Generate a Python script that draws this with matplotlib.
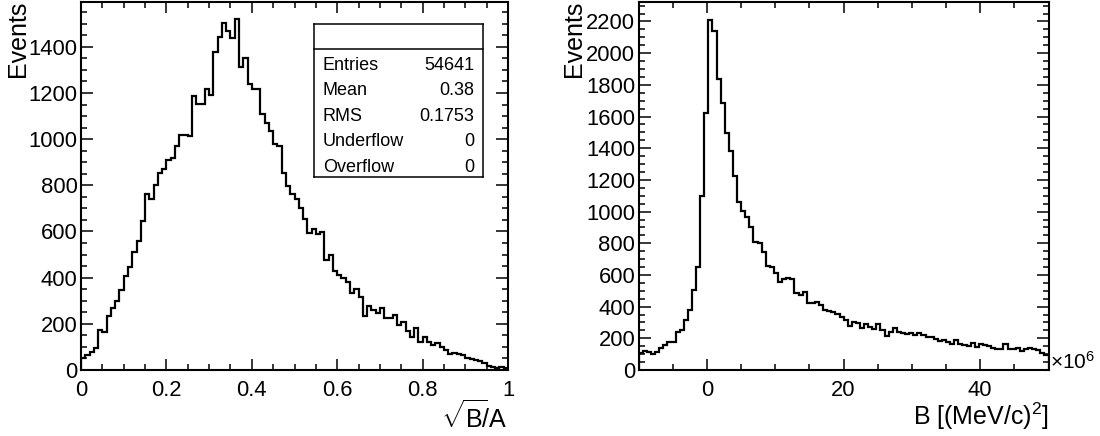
import matplotlib
matplotlib.use('Agg')
import matplotlib.pyplot as plt
import numpy as np
from matplotlib.ticker import MultipleLocator, FuncFormatter
from matplotlib.lines import Line2D

plt.rcParams['font.family'] = ['Liberation Sans', 'DejaVu Sans']
plt.rcParams['mathtext.fontset'] = 'custom'
plt.rcParams['mathtext.rm'] = 'Liberation Sans'
plt.rcParams['mathtext.it'] = 'Liberation Sans:italic'
plt.rcParams['mathtext.bf'] = 'Liberation Sans:bold'

# ---------------- data ----------------
left_range = (0.0, 1.0)
left_counts = [51, 65, 80, 94, 174, 164, 235, 268, 300, 345,
               409, 448, 512, 557, 645, 764, 742, 801, 855, 870,
               910, 920, 971, 1017, 1019, 1014, 1186, 1154, 1154, 1217,
               1193, 1377, 1442, 1504, 1467, 1439, 1522, 1312, 1351, 1238,
               1217, 1217, 1109, 1072, 1035, 980, 971, 855, 797, 761,
               742, 703, 652, 594, 612, 587, 599, 478, 500, 430,
               412, 399, 380, 333, 353, 315, 235, 278, 261, 246,
               268, 225, 225, 239, 196, 210, 171, 145, 181, 123,
               145, 123, 109, 116, 101, 87, 70, 72, 70, 65,
               51, 46, 43, 39, 32, 19, 14, 7, 14, 7]

right_range = (-10.0, 50.0)   # in units of 10^6 (MeV/c)^2
right_counts = [109, 118, 116, 99, 116, 137, 158, 179, 179, 238,
                253, 316, 379, 505, 653, 1099, 1621, 2211, 2143, 1836,
                1684, 1495, 1385, 1227, 1063, 1004, 968, 905, 811, 800,
                747, 657, 653, 611, 554, 573, 579, 573, 484, 474,
                491, 421, 425, 432, 411, 379, 373, 364, 354, 337,
                316, 278, 305, 295, 267, 288, 274, 257, 291, 253,
                217, 242, 267, 242, 236, 227, 232, 221, 232, 221,
                206, 211, 194, 185, 189, 177, 162, 189, 164, 158,
                152, 168, 147, 162, 158, 152, 137, 131, 133, 162,
                133, 133, 141, 122, 133, 141, 133, 126, 105, 95]

stats_labels = ['Entries', 'Mean', 'RMS', 'Underflow', 'Overflow']
stats_values = ['54641', '0.38', '0.1753', '0', '0']

left_xlabel = r'$\sqrt{\mathrm{B}}\!$/A'
right_xlabel = r'B [(MeV/c)$^{2}$]'
ylabel = 'Events'
right_scale_label = r'$\times$10$^{6}$'

# ---------------- figure ----------------
W, H = 1100, 436
fig = plt.figure(figsize=(W / 100, H / 100), dpi=100)


def fx(x):
    return x / W


def fy(y):
    return 1 - y / H


ax1 = fig.add_axes([fx(81), fy(370), fx(508) - fx(81), fy(2) - fy(370)])
ax2 = fig.add_axes([fx(638.7), fy(370), fx(1048.5) - fx(638.7), fy(2) - fy(370)])

e1 = np.linspace(left_range[0], left_range[1], len(left_counts) + 1)
e2 = np.linspace(right_range[0], right_range[1], len(right_counts) + 1)
ax1.stairs(left_counts, e1, color='black', lw=1.6)
ax2.stairs(right_counts, e2, color='black', lw=1.6)

ax1.set_xlim(*left_range)
ax1.set_ylim(0, 1594)
ax2.set_xlim(*right_range)
ax2.set_ylim(0, 2323)

fmt = FuncFormatter(lambda v, p: f'{v:g}')


def style(ax, xmaj, xmin, ymaj, ymin):
    ax.xaxis.set_major_locator(MultipleLocator(xmaj))
    ax.xaxis.set_minor_locator(MultipleLocator(xmin))
    ax.yaxis.set_major_locator(MultipleLocator(ymaj))
    ax.yaxis.set_minor_locator(MultipleLocator(ymin))
    ax.xaxis.set_major_formatter(fmt)
    ax.yaxis.set_major_formatter(fmt)
    ax.tick_params(which='both', direction='in', top=True, right=True,
                   width=1.1, labelsize=15.8, colors='black')
    ax.tick_params(axis='x', which='major', length=7.7, pad=7)
    ax.tick_params(axis='x', which='minor', length=4.0)
    ax.tick_params(axis='y', which='major', length=8.8, pad=2.5)
    ax.tick_params(axis='y', which='minor', length=4.4)
    for s in ax.spines.values():
        s.set_linewidth(1.5)


style(ax1, 0.2, 0.05, 200, 50)
style(ax2, 20, 5, 200, 50)

# axis titles
fig.text(fx(18), fy(1), ylabel, rotation=90, ha='center', va='top', fontsize=18)
fig.text(fx(574), fy(1), ylabel, rotation=90, ha='center', va='top', fontsize=18)
fig.text(fx(508), fy(400), left_xlabel, ha='right', va='top', fontsize=18)
fig.text(fx(1049), fy(401), right_xlabel, ha='right', va='top', fontsize=18)
fig.text(fx(1050), fy(373), right_scale_label, ha='left', va='bottom', fontsize=15)

# stats box
bl, br, bt, bd, bb = 313.5, 482.5, 24.3, 49.3, 176.7
box = [((bl, bt), (br, bt)), ((br, bt), (br, bb)), ((br, bb), (bl, bb)),
       ((bl, bb), (bl, bt)), ((bl, bd), (br, bd))]
for (x0, y0), (x1, y1) in box:
    fig.add_artist(Line2D([fx(x0), fx(x1)], [fy(y0), fy(y1)],
                          transform=fig.transFigure, color='black', lw=1.1))
baselines = [70, 95.3, 120.7, 146.3, 171.7]
for lab, val, yb in zip(stats_labels, stats_values, baselines):
    fig.text(fx(323), fy(yb), lab, ha='left', va='baseline', fontsize=13)
    fig.text(fx(474.5), fy(yb), val, ha='right', va='baseline', fontsize=13)

fig.savefig('out.png', dpi=100)
